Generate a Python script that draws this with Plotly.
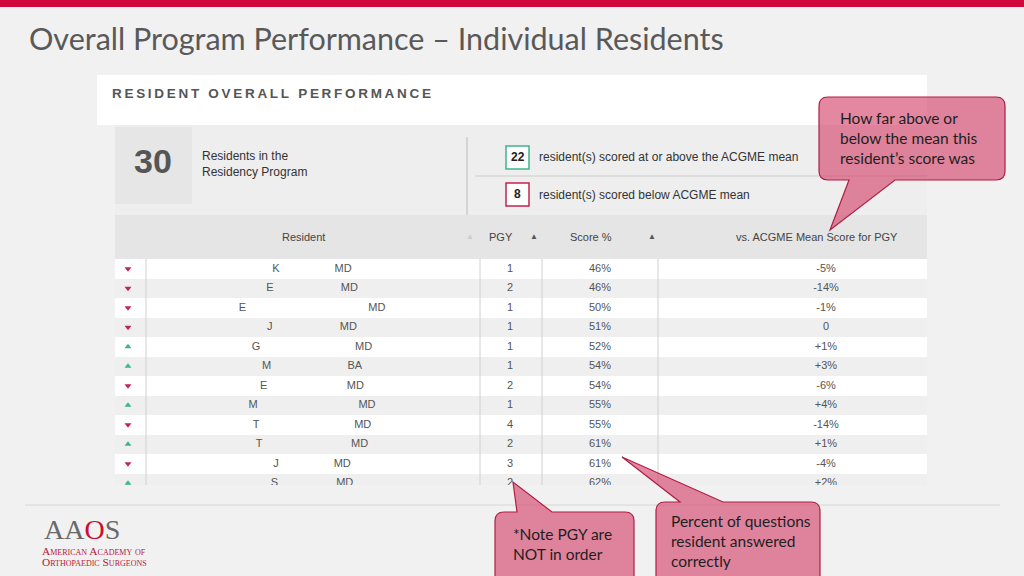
import plotly.graph_objects as go

W, H = 1024, 576

# table data (names are redacted in the source: initial + hidden gap + degree)
initials = ["K", "E", "E", "J", "G", "M", "E", "M", "T", "T", "J", "S"]
degrees = ["MD", "MD", "MD", "MD", "MD", "BA", "MD", "MD", "MD", "MD", "MD", "MD"]
name_gaps = [18, 22, 40, 22, 31, 25, 26, 33, 31, 29, 18, 19]
pgy = [1, 2, 1, 1, 1, 1, 2, 1, 4, 2, 3, 2]
score_pct = [46, 46, 50, 51, 52, 54, 54, 55, 55, 61, 61, 62]
vs_mean = [-5, -14, -1, 0, 1, 3, -6, 4, -14, 1, -4, 2]
columns = ["Resident", "PGY", "Score %", "vs. ACGME Mean Score for PGY"]

total_residents = 30
at_or_above = 22
below = 8

RED = "#c4234f"
GREEN = "#3bb58c"
SANS = "Liberation Sans, Arial, sans-serif"
SLIDE = "Lato, Open Sans, sans-serif"
SERIF = "Liberation Serif, serif"

# table geometry (pixels)
TX0, TX1 = 115, 927
BODY_Y0, BODY_Y1 = 259, 485
ROW_H = 19.5
col_x = {"arrow": 128, "Resident": 312, "PGY": 510, "Score %": 600,
         "vs. ACGME Mean Score for PGY": 826}
head_x = {"Resident": 303, "PGY": 501, "Score %": 591,
          "vs. ACGME Mean Score for PGY": 817}


def P(x, y):
    return f"{x / W:.5f},{1 - y / H:.5f}"


def rect(x0, y0, x1, y1, fill, line=None, lw=0):
    return dict(type="rect", xref="paper", yref="paper",
                x0=x0 / W, x1=x1 / W, y0=1 - y1 / H, y1=1 - y0 / H,
                fillcolor=fill, line=dict(color=line or fill, width=lw),
                layer="below")


def hline(x0, x1, y, color, layer="below"):
    return dict(type="line", xref="paper", yref="paper",
                x0=x0 / W, x1=x1 / W, y0=1 - y / H, y1=1 - y / H,
                line=dict(color=color, width=1), layer=layer)


def callout(x0, y0, x1, y1, r, side, a, b, tip):
    d = f"M{P(x0 + r, y0)}"
    if side == "top":
        d += f" L{P(a, y0)} L{P(*tip)} L{P(b, y0)}"
    d += f" L{P(x1 - r, y0)} Q{P(x1, y0)} {P(x1, y0 + r)}"
    d += f" L{P(x1, y1 - r)} Q{P(x1, y1)} {P(x1 - r, y1)}"
    if side == "bottom":
        d += f" L{P(b, y1)} L{P(*tip)} L{P(a, y1)}"
    d += f" L{P(x0 + r, y1)} Q{P(x0, y1)} {P(x0, y1 - r)}"
    d += f" L{P(x0, y0 + r)} Q{P(x0, y0)} {P(x0 + r, y0)} Z"
    return dict(type="path", xref="paper", yref="paper", path=d,
                fillcolor="rgba(214,72,110,0.65)",
                line=dict(color="#b01e45", width=1.2), layer="above")


def note(x, y, text, size=15.5, color="#1e1e1e", family=SLIDE, xanchor="left",
         yanchor="middle", variant="normal"):
    return dict(x=x / W, y=1 - y / H, xref="paper", yref="paper", text=text,
                showarrow=False, xanchor=xanchor, yanchor=yanchor, align="left",
                font=dict(size=size, color=color, family=family, variant=variant))


rows = list(range(len(pgy)))
names = [i + "\u00a0" * g + d for i, g, d in zip(initials, name_gaps, degrees)]
vs_text = ["0" if v == 0 else f"{v:+d}%" for v in vs_mean]

fig = go.Figure()

# row stripes
fig.add_trace(go.Bar(
    y=rows, x=[TX1 - TX0] * len(rows), base=TX0, orientation="h", width=1,
    marker=dict(color=["#ffffff" if r % 2 == 0 else "#efefef" for r in rows],
                line=dict(width=0)),
    hoverinfo="skip", showlegend=False))

# up/down indicators
fig.add_trace(go.Scatter(
    x=[col_x["arrow"]] * len(rows), y=rows, mode="markers",
    marker=dict(symbol=["triangle-up" if v > 0 else "triangle-down" for v in vs_mean],
                color=[GREEN if v > 0 else RED for v in vs_mean], size=6),
    hoverinfo="skip", showlegend=False))

for col, vals in zip(columns, [names, [str(p) for p in pgy],
                               [f"{s}%" for s in score_pct], vs_text]):
    fig.add_trace(go.Scatter(
        x=[col_x[col]] * len(rows), y=rows, mode="text", text=vals,
        textposition="middle center", cliponaxis=True,
        textfont=dict(family=SANS, size=11, color="#555555"),
        hoverinfo="skip", showlegend=False))

shapes = [
    rect(0, 0, W, 7, "#d0073b"),
    rect(97, 75, 927, 125, "#ffffff"),
    rect(115, 125, 927, 215, "#eeeeee"),
    rect(115, 127, 192, 204, "#e6e6e6"),
    dict(type="line", xref="paper", yref="paper", x0=467 / W, x1=467 / W,
         y0=1 - 215 / H, y1=1 - 137 / H, line=dict(color="#bbbbbb", width=1)),
    hline(475, 927, 176, "#cccccc"),
    rect(506, 146, 529, 169, "#ffffff", GREEN, 1.5),
    rect(506, 183, 529, 206, "#ffffff", RED, 1.5),
    rect(TX0, 215, TX1, BODY_Y0, "#e5e5e5"),
    hline(25, 1000, 505, "#d6d6d6"),
]
for vx in [146, 480, 542, 658]:
    shapes.append(dict(type="line", xref="x", yref="paper", x0=vx, x1=vx,
                       y0=1 - BODY_Y1 / H, y1=1 - BODY_Y0 / H,
                       line=dict(color="#d0d0d0", width=1), layer="above"))

shapes += [
    callout(819, 97, 1005, 180, 9, "bottom", 849, 895, (830, 230)),
    callout(495, 512, 634, 590, 9, "top", 517, 552, (513, 482)),
    callout(656, 502, 820, 590, 9, "top", 680, 723, (622, 457)),
]

spaced = "\u2009".join("RESIDENT OVERALL PERFORMANCE")
annotations = [
    note(27, 38, "Overall Program Performance \u2013 Individual Residents",
         size=30.5, color="#595959"),
    note(110, 93, f"<b>{spaced}</b>", size=13.5, color="#555555", family=SANS),
    note(153, 161, f"<b>{total_residents}</b>", size=34, color="#555555",
         family=SANS, xanchor="center"),
    note(200, 164, "Residents in the<br>Residency Program", size=12,
         color="#333333", family=SANS),
    note(517.5, 157, f"<b>{at_or_above}</b>", size=12, color="#222222",
         family=SANS, xanchor="center"),
    note(517.5, 194, f"<b>{below}</b>", size=12, color="#222222",
         family=SANS, xanchor="center"),
    note(537, 157, "resident(s) scored at or above the ACGME mean", size=12,
         color="#333333", family=SANS),
    note(537, 195, "resident(s) scored below ACGME mean", size=12,
         color="#333333", family=SANS),
    note(470, 237, "\u25b2", size=8, color="#cccccc", family=SANS,
         xanchor="center"),
    note(534, 237, "\u25b2", size=8, color="#555555", family=SANS,
         xanchor="center"),
    note(652, 237, "\u25b2", size=8, color="#555555", family=SANS,
         xanchor="center"),
    note(838, 138, "How far above or<br>below the mean this<br>resident\u2019s score was"),
    note(511, 544, "*Note PGY are<br>NOT in order"),
    note(669, 541, "Percent of questions<br>resident answered<br>correctly"),
    note(42, 529, "AA<span style='color:#c8102e'>O</span>S", size=28,
         color="#6a6a6a", family=SERIF),
    note(40, 550.5, "American Academy of", size=11.4,
         color="#b5183a", family=SERIF, variant="small-caps"),
    note(40, 562, "Orthopaedic Surgeons", size=11.4,
         color="#b5183a", family=SERIF, variant="small-caps"),
]
for c in columns:
    annotations.append(note(head_x[c], 237, c, size=11, color="#444444",
                            family=SANS, xanchor="center"))

fig.update_layout(
    width=W, height=H,
    margin=dict(l=0, r=0, t=0, b=0, pad=0),
    paper_bgcolor="#f1f1f1",
    plot_bgcolor="rgba(0,0,0,0)",
    xaxis=dict(domain=[TX0 / W, TX1 / W], range=[TX0, TX1], visible=False,
               fixedrange=True),
    yaxis=dict(domain=[1 - BODY_Y1 / H, 1 - BODY_Y0 / H],
               range=[(BODY_Y1 - BODY_Y0) / ROW_H - 0.5, -0.5], visible=False,
               fixedrange=True),
    bargap=0,
    shapes=shapes,
    annotations=annotations,
)

fig.write_html("out.html", config={"displayModeBar": False},
               post_script="document.body.style.margin='0';")
